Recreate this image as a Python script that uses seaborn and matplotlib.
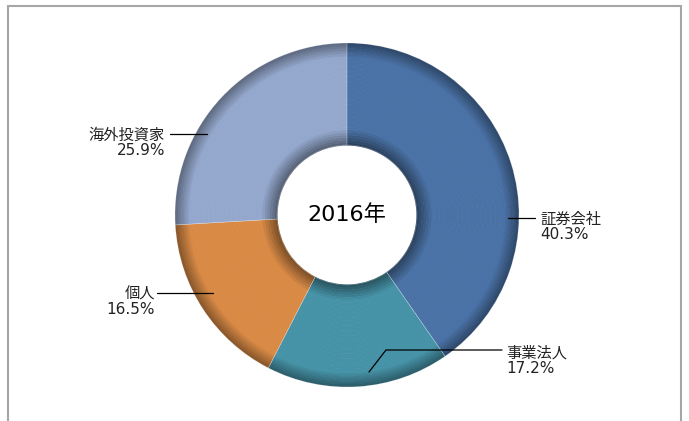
import numpy as np
import matplotlib
matplotlib.use("Agg")
import matplotlib.pyplot as plt
import seaborn as sns
from matplotlib.colors import to_rgb

# データ
labels = ["証券会社", "事業法人", "個人", "海外投資家"]
values = [40.3, 17.2, 16.5, 25.9]
pct_labels = ["40.3%", "17.2%", "16.5%", "25.9%"]
colors = ["#4A72A6", "#4693A8", "#D98A45", "#94A8CD"]
center_text = "2016年"

sns.set_style("white")
plt.rcParams['font.family'] = ['DejaVu Sans', 'Noto Sans CJK JP']

W, H = 689, 421
fig = plt.figure(figsize=(W / 100, H / 100), dpi=100)
ax = fig.add_axes([0, 0, 1, 1])

cx, cy = 347, H - 215
R_out, R_in = 172, 70

# 陰影付きのドーナツ（同心リングを重ねる）
n_bands = 40
edges = np.linspace(R_in, R_out, n_bands + 1)
for i in range(n_bands):
    r0, r1 = edges[i], edges[i + 1]
    t = (i + 0.5) / n_bands
    d = 0.0
    if t < 0.16:
        d = (1 - t / 0.16) * 0.45
    elif t > 0.86:
        d = ((t - 0.86) / 0.14) * 0.38
    band_colors = [tuple(np.array(to_rgb(c)) * (1 - d)) for c in colors]
    ax.pie(values, colors=band_colors, startangle=90, counterclock=False,
           radius=r1, center=(cx, cy), frame=True,
           wedgeprops=dict(width=r1 - r0 + 0.6, linewidth=0))

# スライス境界の細い線
ax.pie(values, colors=['none'] * 4, startangle=90, counterclock=False,
       radius=R_out, center=(cx, cy), frame=True,
       wedgeprops=dict(width=R_out - R_in, linewidth=0.4, edgecolor=(1, 1, 1, 0.3)))
ax.set_xlim(0, W)
ax.set_ylim(0, H)
ax.set_aspect('equal')
ax.axis('off')

ax.text(cx, cy, center_text, ha='center', va='center', fontsize=16, color='black')

# ラベルと引き出し線
fs = 11
txt_kw = dict(fontsize=fs, linespacing=1.0, color='#222222')
line_kw = dict(color='black', lw=0.9)
# 証券会社
ax.plot([508, 535], [H - 218, H - 218], **line_kw)
ax.text(540, H - 227, f"{labels[0]}\n{pct_labels[0]}", ha='left', va='center', **txt_kw)
# 事業法人
ax.plot([369, 386, 502], [H - 372, H - 350, H - 350], **line_kw)
ax.text(506, H - 361, f"{labels[1]}\n{pct_labels[1]}", ha='left', va='center', **txt_kw)
# 個人
ax.plot([157, 213], [H - 293, H - 293], **line_kw)
ax.text(155, H - 302, f"{labels[2]}\n{pct_labels[2]}", ha='right', va='center',
        multialignment='right', **txt_kw)
# 海外投資家
ax.plot([170, 207], [H - 134, H - 134], **line_kw)
ax.text(165, H - 143, f"{labels[3]}\n{pct_labels[3]}", ha='right', va='center',
        multialignment='right', **txt_kw)

# 外枠
frame_kw = dict(color='#A6A6A6', lw=1.5, transform=fig.transFigure)
x0, x1, yt = 8 / W, 681 / W, 1 - 6 / H
fig.add_artist(plt.Line2D([x0, x1], [yt, yt], **frame_kw))
fig.add_artist(plt.Line2D([x0, x0], [0, yt], **frame_kw))
fig.add_artist(plt.Line2D([x1, x1], [0, yt], **frame_kw))

fig.savefig("out.png", dpi=100)
